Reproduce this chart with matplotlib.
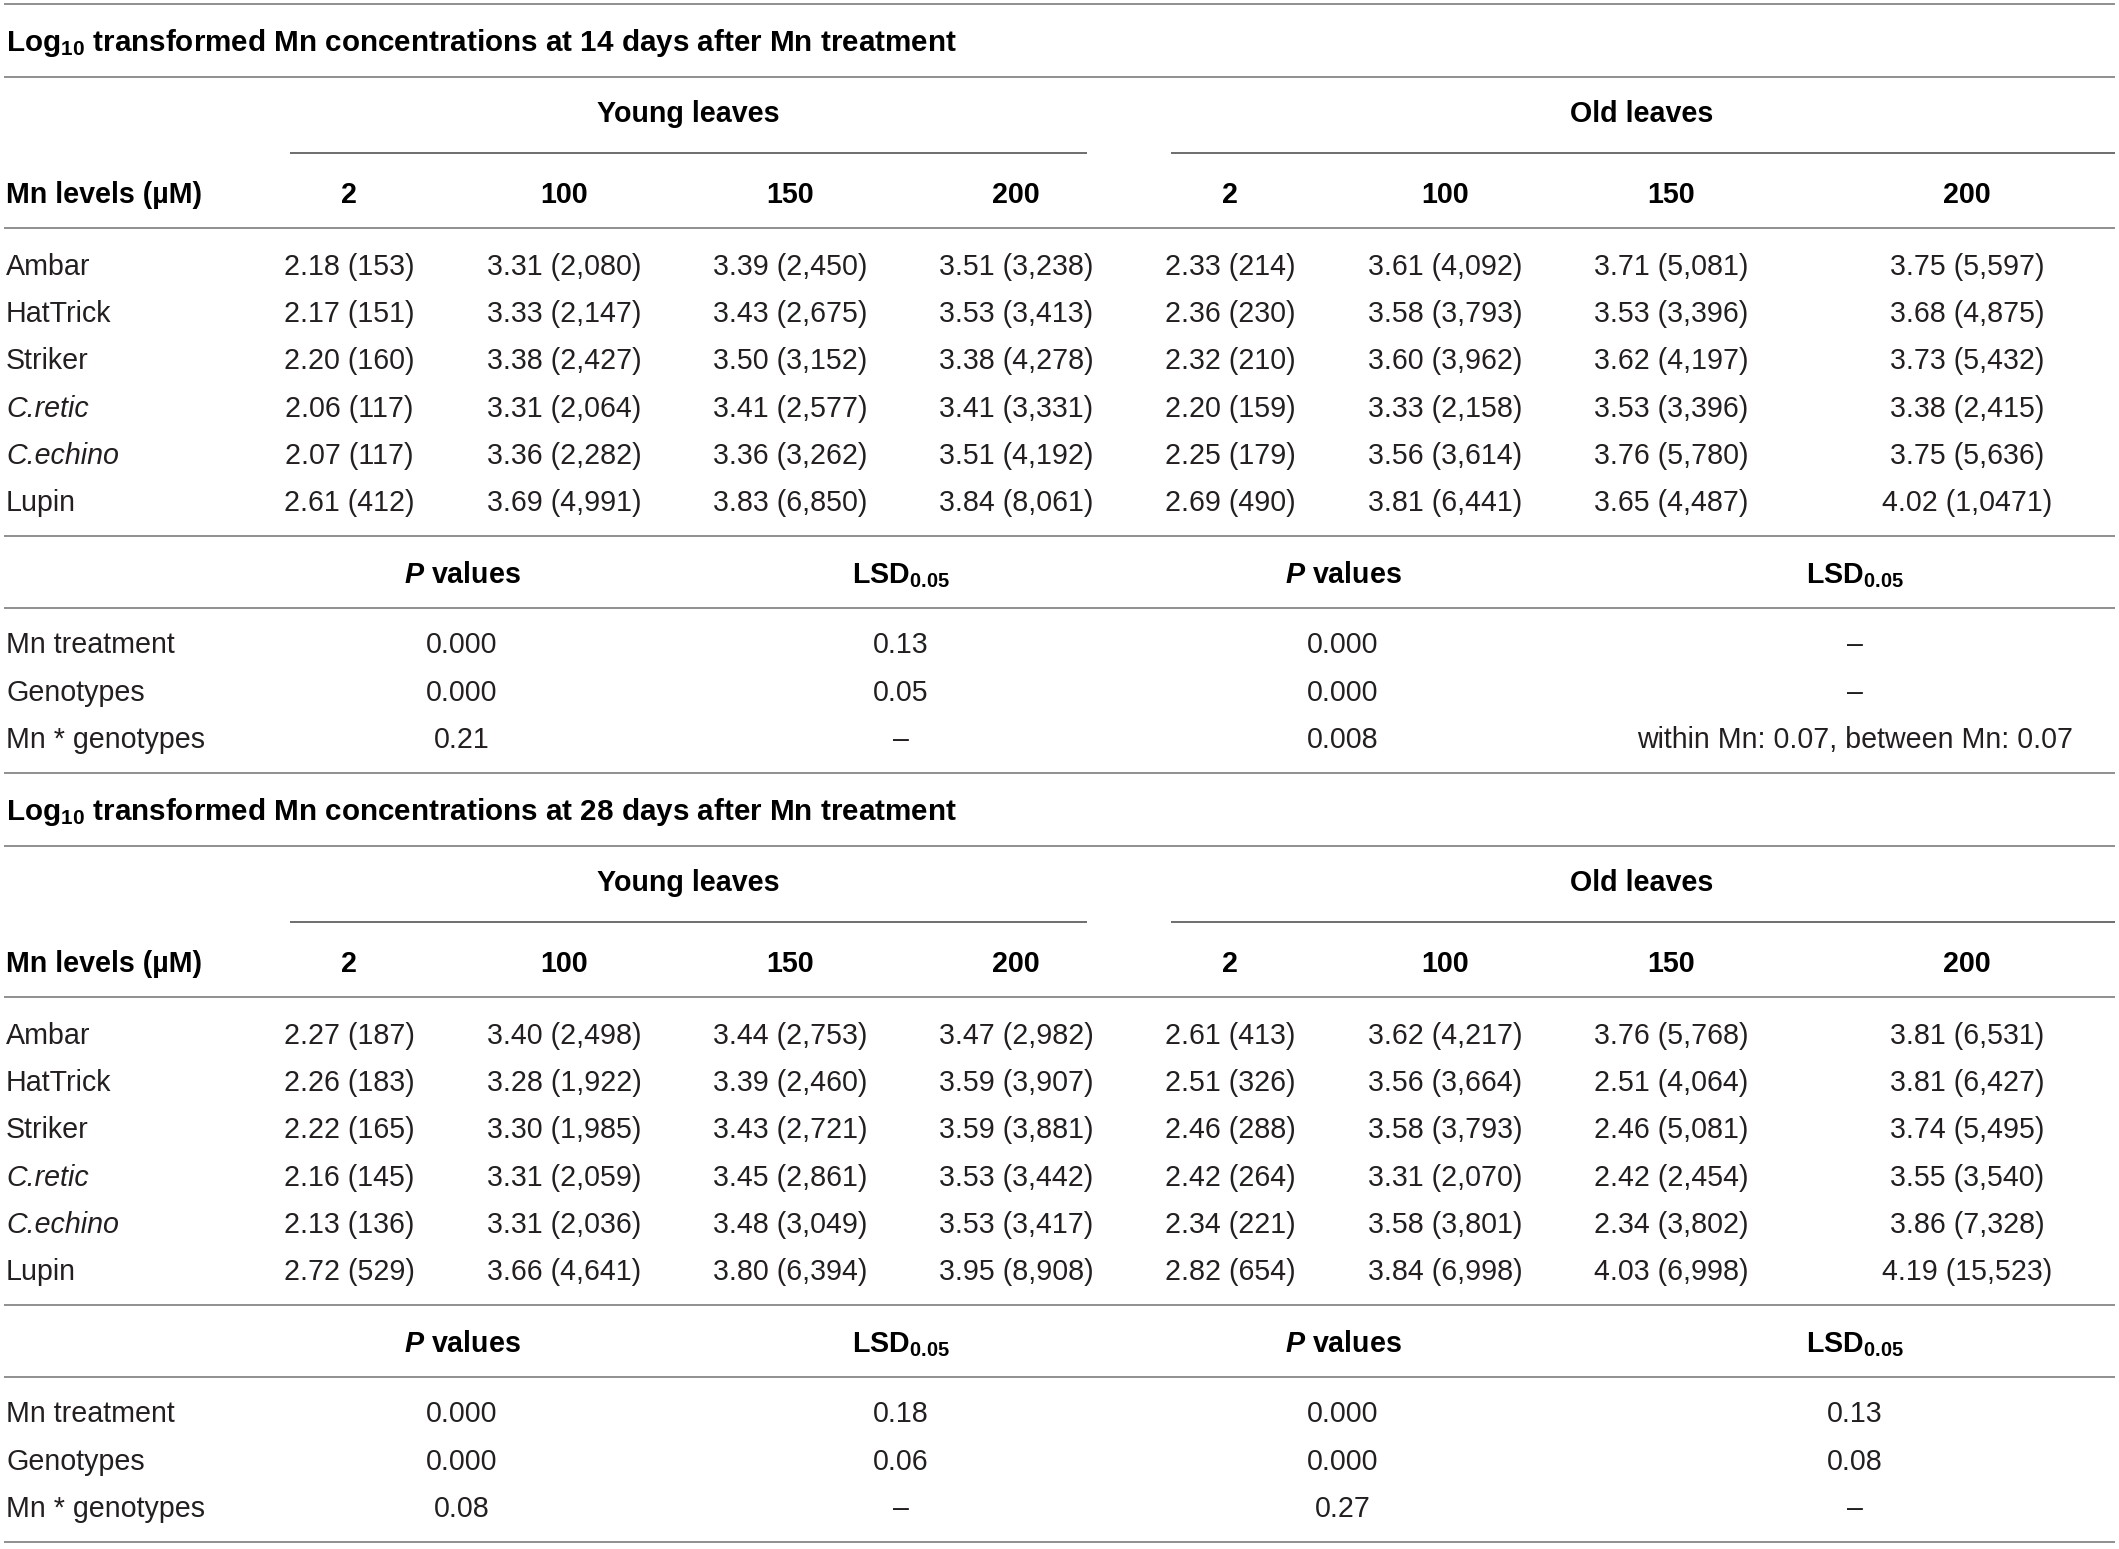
import matplotlib
matplotlib.use("Agg")
import matplotlib.pyplot as plt

plt.rcParams['font.family'] = ['Liberation Sans', 'DejaVu Sans']
plt.rcParams['mathtext.fontset'] = 'custom'
plt.rcParams['mathtext.default'] = 'regular'
plt.rcParams['mathtext.it'] = 'Liberation Sans:italic:bold'

# ---- data ----
genotypes = ["Ambar", "HatTrick", "Striker", "C.retic", "C.echino", "Lupin"]
italic_names = ["C.retic", "C.echino"]
mn_levels = ["2", "100", "150", "200"]
stat_rows = ["Mn treatment", "Genotypes", "Mn * genotypes"]

log14_young = [[2.18, 3.31, 3.39, 3.51],
               [2.17, 3.33, 3.43, 3.53],
               [2.20, 3.38, 3.50, 3.38],
               [2.06, 3.31, 3.41, 3.41],
               [2.07, 3.36, 3.36, 3.51],
               [2.61, 3.69, 3.83, 3.84]]
conc14_young = [["153", "2,080", "2,450", "3,238"],
                ["151", "2,147", "2,675", "3,413"],
                ["160", "2,427", "3,152", "4,278"],
                ["117", "2,064", "2,577", "3,331"],
                ["117", "2,282", "3,262", "4,192"],
                ["412", "4,991", "6,850", "8,061"]]
log14_old = [[2.33, 3.61, 3.71, 3.75],
             [2.36, 3.58, 3.53, 3.68],
             [2.32, 3.60, 3.62, 3.73],
             [2.20, 3.33, 3.53, 3.38],
             [2.25, 3.56, 3.76, 3.75],
             [2.69, 3.81, 3.65, 4.02]]
conc14_old = [["214", "4,092", "5,081", "5,597"],
              ["230", "3,793", "3,396", "4,875"],
              ["210", "3,962", "4,197", "5,432"],
              ["159", "2,158", "3,396", "2,415"],
              ["179", "3,614", "5,780", "5,636"],
              ["490", "6,441", "4,487", "1,0471"]]

log28_young = [[2.27, 3.40, 3.44, 3.47],
               [2.26, 3.28, 3.39, 3.59],
               [2.22, 3.30, 3.43, 3.59],
               [2.16, 3.31, 3.45, 3.53],
               [2.13, 3.31, 3.48, 3.53],
               [2.72, 3.66, 3.80, 3.95]]
conc28_young = [["187", "2,498", "2,753", "2,982"],
                ["183", "1,922", "2,460", "3,907"],
                ["165", "1,985", "2,721", "3,881"],
                ["145", "2,059", "2,861", "3,442"],
                ["136", "2,036", "3,049", "3,417"],
                ["529", "4,641", "6,394", "8,908"]]
log28_old = [[2.61, 3.62, 3.76, 3.81],
             [2.51, 3.56, 2.51, 3.81],
             [2.46, 3.58, 2.46, 3.74],
             [2.42, 3.31, 2.42, 3.55],
             [2.34, 3.58, 2.34, 3.86],
             [2.82, 3.84, 4.03, 4.19]]
conc28_old = [["413", "4,217", "5,768", "6,531"],
              ["326", "3,664", "4,064", "6,427"],
              ["288", "3,793", "5,081", "5,495"],
              ["264", "2,070", "2,454", "3,540"],
              ["221", "3,801", "3,802", "7,328"],
              ["654", "6,998", "6,998", "15,523"]]

p14_young = ["0.000", "0.000", "0.21"]
lsd14_young = ["0.13", "0.05", "–"]
p14_old = ["0.000", "0.000", "0.008"]
lsd14_old = ["–", "–", "within Mn: 0.07, between Mn: 0.07"]
p28_young = ["0.000", "0.000", "0.08"]
lsd28_young = ["0.18", "0.06", "–"]
p28_old = ["0.000", "0.000", "0.27"]
lsd28_old = ["0.13", "0.08", "–"]

days = ["14", "28"]

# ---- layout (pixels) ----
W, H = 2119, 1549
young_x = [349, 564, 790, 1016]
old_x = [1230, 1445, 1671, 1967]
stat_x = [462, 901, 1343, 1855]
label_x = 6
fs = 20.6
line_col = "#8f8f8f"
text_col = "#231f20"

fig = plt.figure(figsize=(W / 100, H / 100), dpi=100)
ax = fig.add_axes([0, 0, 1, 1])
ax.set_xlim(0, W)
ax.set_ylim(H, 0)
ax.axis("off")


def rule(y, x0=4, x1=2115, col=line_col):
    ax.plot([x0, x1], [y, y], color=col, lw=1.4, solid_capstyle="butt")


def txt(x, y, s, ha="center", bold=False, italic=False, size=fs):
    ax.text(x, y + 10, s, ha=ha, va="baseline", fontsize=size,
            fontweight="bold" if bold else "normal",
            fontstyle="italic" if italic else "normal",
            color="black" if bold else text_col)


sections = [
    (log14_young, conc14_young, log14_old, conc14_old,
     [p14_young, lsd14_young, p14_old, lsd14_old]),
    (log28_young, conc28_young, log28_old, conc28_old,
     [p28_young, lsd28_young, p28_old, lsd28_old]),
]

for k, (ly, cy, lo, co, stats) in enumerate(sections):
    off = k * 769
    rule(4 + off)
    txt(label_x, 41 + off,
        "Log$_{10}$ transformed Mn concentrations at %s days after Mn treatment" % days[k],
        ha="left", bold=True, size=21.3)
    rule(77 + off)
    txt(688, 112 + off, "Young leaves", bold=True)
    txt(1642, 112 + off, "Old leaves", bold=True)
    rule(153 + off, 290, 1087, "#6e6e6e")
    rule(153 + off, 1171, 2115, "#6e6e6e")
    txt(label_x, 193 + off, "Mn levels (µM)", ha="left", bold=True)
    for j, lev in enumerate(mn_levels):
        txt(young_x[j], 193 + off, lev, bold=True)
        txt(old_x[j], 193 + off, lev, bold=True)
    rule(228 + off)
    for i, g in enumerate(genotypes):
        y = 265 + i * 47.2 + off
        txt(label_x, y, g, ha="left", italic=g in italic_names)
        for j in range(4):
            txt(young_x[j], y, "%.2f (%s)" % (ly[i][j], cy[i][j]))
            txt(old_x[j], y, "%.2f (%s)" % (lo[i][j], co[i][j]))
    rule(536 + off)
    for j in range(4):
        head = r"$\mathit{P}$ values" if j % 2 == 0 else "LSD$_{0.05}$"
        txt(stat_x[j], 573 + off, head, bold=True)
    rule(608 + off)
    for i, name in enumerate(stat_rows):
        y = 643 + i * 47.5 + off
        txt(label_x, y, name, ha="left")
        for j in range(4):
            txt(stat_x[j], y, stats[j][i])
rule(1542)

fig.savefig("out.png", dpi=100)
